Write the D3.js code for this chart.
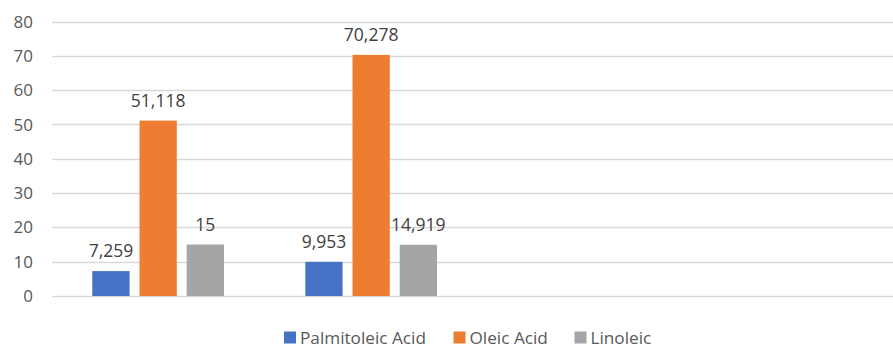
<!DOCTYPE html>
<html><head><meta charset="utf-8">
<script src="https://cdn.jsdelivr.net/npm/d3@7"></script>
<style>body{margin:0;background:#fff}svg{display:block}</style>
</head><body>
<script>
const categories = ["Sample 1", "Sample 2"];
const seriesNames = ["Palmitoleic Acid", "Oleic Acid", "Linoleic"];
const palmitoleic = [7.259, 9.953];
const oleic = [51.118, 70.278];
const linoleic = [15, 14.919];
const labelsPalmitoleic = ["7,259", "9,953"];
const labelsOleic = ["51,118", "70,278"];
const labelsLinoleic = ["15", "14,919"];
const yTicks = [0, 10, 20, 30, 40, 50, 60, 70, 80];
const colors = ["#4472C4", "#ED7D31", "#A5A5A5"];

const W = 893, H = 349;
const svg = d3.select("body").append("svg").attr("width", W).attr("height", H);
const font = "'Open Sans', 'Noto Sans', sans-serif";

const plotLeft = 52, plotRight = 893, catW = 213;
const y = d3.scaleLinear().domain([0, 80]).range([296, 21.5]);
const x0 = d3.scaleBand().domain(categories).range([plotLeft, plotLeft + catW * categories.length]);
const x1 = d3.scaleBand().domain(seriesNames).range([40.3, 172]).paddingInner(0.21);

// gridlines
svg.append("g").selectAll("line").data(yTicks).join("line")
  .attr("x1", plotLeft).attr("x2", plotRight)
  .attr("y1", d => Math.round(y(d)) + 0.5).attr("y2", d => Math.round(y(d)) + 0.5)
  .attr("stroke", "#D9D9D9").attr("stroke-width", 1.3);

// y axis labels
svg.append("g").selectAll("text").data(yTicks).join("text")
  .attr("x", 33).attr("y", d => y(d)).attr("dy", "0.36em")
  .attr("text-anchor", "end").attr("font-family", font).attr("font-size", 17)
  .attr("fill", "#595959").text(d => d);

const series = [
  {name: seriesNames[0], values: palmitoleic, labels: labelsPalmitoleic, color: colors[0]},
  {name: seriesNames[1], values: oleic, labels: labelsOleic, color: colors[1]},
  {name: seriesNames[2], values: linoleic, labels: labelsLinoleic, color: colors[2]}
];

const groups = svg.append("g").selectAll("g").data(categories).join("g")
  .attr("transform", c => `translate(${x0(c)},0)`);

groups.each(function(c, ci) {
  const g = d3.select(this);
  series.forEach(s => {
    g.append("rect")
      .attr("x", x1(s.name)).attr("width", x1.bandwidth())
      .attr("y", y(s.values[ci])).attr("height", y(0) - y(s.values[ci]))
      .attr("fill", s.color);
    g.append("text")
      .attr("x", x1(s.name) + x1.bandwidth() / 2)
      .attr("y", y(s.values[ci]) - 14)
      .attr("text-anchor", "middle").attr("font-family", font).attr("font-size", 17.5)
      .attr("fill", "#404040").text(s.labels[ci]);
  });
});

// legend
const legendX = [284, 453.5, 574.5];
const leg = svg.append("g").selectAll("g").data(series).join("g")
  .attr("transform", (d, i) => `translate(${legendX[i]},331.5)`);
leg.append("rect").attr("width", 12).attr("height", 12).attr("fill", d => d.color);
leg.append("text").attr("x", 16).attr("y", 12.3)
  .attr("font-family", font).attr("font-size", 17.2).attr("fill", "#595959")
  .text(d => d.name);
</script>
</body></html>
